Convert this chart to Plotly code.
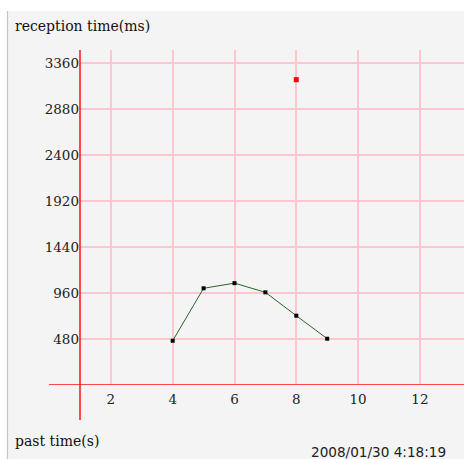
import plotly.graph_objects as go

# data
past_time = [4, 5, 6, 7, 8, 9]
reception_ms = [462, 1009, 1063, 967, 723, 483]
outlier_time = [8]
outlier_ms = [3186]
x_ticks = [2, 4, 6, 8, 10, 12]
y_ticks = [480, 960, 1440, 1920, 2400, 2880, 3360]
y_title = "reception time(ms)"
x_title = "past time(s)"
stamp = "2008/01/30 4:18:19"

W, H = 464, 459
L, R, T, B = 80, 0, 50, 74
PW, PH = W - L - R, H - T - B


def px_x(p):
    return (p - L) / PW


def px_y(p):
    return (H - B - p) / PH


fig = go.Figure()
fig.add_trace(go.Scatter(
    x=past_time, y=reception_ms, mode="lines+markers",
    line=dict(color="#2a632a", width=1),
    marker=dict(symbol="square", size=4, color="#000000"),
    showlegend=False, hoverinfo="skip"))
fig.add_trace(go.Scatter(
    x=outlier_time, y=outlier_ms, mode="markers",
    marker=dict(symbol="square", size=5, color="#ff0000"),
    showlegend=False, hoverinfo="skip"))

serif = "DejaVu Serif"
fig.update_layout(
    width=W, height=H,
    margin=dict(l=L, r=R, t=T, b=B, pad=0),
    paper_bgcolor="#ffffff",
    plot_bgcolor="rgba(0,0,0,0)",
    xaxis=dict(range=[1, 1 + PW / 30.9], tickvals=x_ticks, showgrid=True,
               gridcolor="#ffc6d0", gridwidth=2, zeroline=False, showline=False,
               ticks="", tickfont=dict(family=serif, size=13.5, color="#222"),
               ticklabelstandoff=4, fixedrange=True),
    yaxis=dict(range=[0, PH * 480 / 46], tickvals=y_ticks, showgrid=True,
               gridcolor="#ffc6d0", gridwidth=1.5, zeroline=False, showline=False,
               ticks="", tickfont=dict(family=serif, size=13.5, color="#222"),
               ticklabelstandoff=0, fixedrange=True),
    shapes=[
        dict(type="rect", xref="paper", yref="paper", layer="below",
             x0=px_x(7), x1=px_x(W + 5), y0=px_y(H + 5), y1=px_y(11),
             fillcolor="#f4f4f4", line=dict(width=0)),
        dict(type="line", xref="paper", yref="paper",
             x0=px_x(7.5), x1=px_x(7.5), y0=px_y(H + 5), y1=px_y(11),
             line=dict(color="#c4c4c4", width=1.2)),
        dict(type="line", xref="paper", yref="paper",
             x0=0, x1=0, y0=px_y(420), y1=1,
             line=dict(color="#ff1010", width=1.5)),
        dict(type="line", xref="paper", yref="y",
             x0=px_x(49), x1=1, y0=0, y1=0,
             line=dict(color="#ff1010", width=1.5)),
    ],
    annotations=[
        dict(text=y_title, xref="paper", yref="paper", x=px_x(13), y=px_y(26),
             xanchor="left", yanchor="middle", showarrow=False,
             font=dict(family=serif, size=14, color="#111")),
        dict(text=x_title, xref="paper", yref="paper", x=px_x(13), y=px_y(441),
             xanchor="left", yanchor="middle", showarrow=False,
             font=dict(family=serif, size=14, color="#111")),
        dict(text=stamp, xref="paper", yref="paper", x=px_x(448), y=px_y(452),
             xanchor="right", yanchor="middle", showarrow=False,
             font=dict(family="DejaVu Sans", size=13.6, color="#222")),
    ],
)

fig.write_html(
    "out.html",
    config={"displayModeBar": False, "staticPlot": True},
    post_script="document.body.style.margin='0';document.body.style.overflow='hidden';",
)
